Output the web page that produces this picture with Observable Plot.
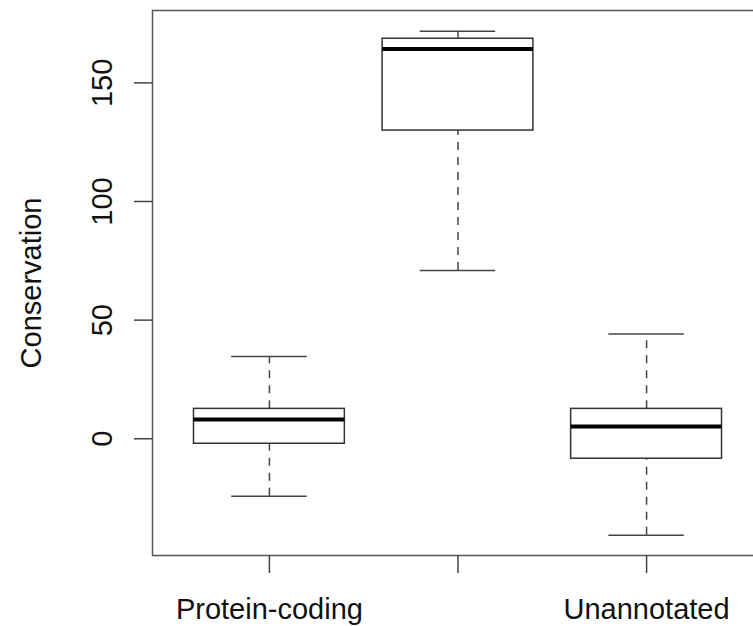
<!DOCTYPE html>
<html>
<head>
<meta charset="utf-8">
<script src="https://cdn.jsdelivr.net/npm/d3@7"></script>
<script src="https://cdn.jsdelivr.net/npm/@observablehq/plot@0.6"></script>
<style>
  html, body { margin: 0; padding: 0; background: white; overflow: hidden; }
  svg { overflow: hidden; }
</style>
</head>
<body>
<div id="chart"></div>
<script>
// Categories (the middle label is not printed in the reference)
const categories = ["Protein-coding", "", "Unannotated"];
const positions = [1, 2, 3];
// Box statistics
const lowerWhisker = [-24.2, 70.9, -40.7];
const q1 = [-2.1, 129.9, -8.4];
const median = [8.1, 164.3, 5.2];
const q3 = [12.6, 168.6, 12.6];
const upperWhisker = [34.7, 171.8, 44.2];
// Axis ticks
const yTicks = [0, 50, 100, 150];
const yTickLabels = ["0", "50", "100", "150"];
const yLabel = "Conservation";

const boxes = categories.map((c, i) => ({
  name: c, pos: positions[i], lo: lowerWhisker[i], q1: q1[i],
  med: median[i], q3: q3[i], hi: upperWhisker[i]
}));

const halfBox = 0.4, halfStaple = 0.2;
const lineColor = "#333";

const chart = Plot.plot({
  width: 753,
  height: 626,
  marginLeft: 152,
  marginRight: -10,
  marginTop: 10,
  marginBottom: 71,
  style: { fontFamily: "'Liberation Sans', Arial, Helvetica, sans-serif", fontSize: "29px", background: "white", color: "#111" },
  x: { type: "linear", domain: [0.38, 3.62] },
  y: { domain: [-49.2, 180.5] },
  marks: [
    // whiskers (dashed)
    Plot.ruleX(boxes, { x: "pos", y1: "q3", y2: "hi", stroke: "#444", strokeWidth: 1.5, strokeDasharray: "8,7" }),
    Plot.ruleX(boxes, { x: "pos", y1: "lo", y2: "q1", stroke: "#444", strokeWidth: 1.5, strokeDasharray: "8,7" }),
    // staples
    Plot.ruleY(boxes, { y: "hi", x1: d => d.pos - halfStaple, x2: d => d.pos + halfStaple, stroke: "#444", strokeWidth: 1.5 }),
    Plot.ruleY(boxes, { y: "lo", x1: d => d.pos - halfStaple, x2: d => d.pos + halfStaple, stroke: "#444", strokeWidth: 1.5 }),
    // boxes
    Plot.rect(boxes, { x1: d => d.pos - halfBox, x2: d => d.pos + halfBox, y1: "q1", y2: "q3", fill: "white", stroke: lineColor, strokeWidth: 1.5 }),
    // medians
    Plot.ruleY(boxes, { y: "med", x1: d => d.pos - halfBox, x2: d => d.pos + halfBox, stroke: "black", strokeWidth: 4 }),
    // frame
    Plot.frame({ stroke: "#555", strokeWidth: 1.5 }),
    // x axis
    Plot.axisX({ ticks: positions, tickSize: 18, tickPadding: 25, tickFormat: d => categories[d - 1], label: null, stroke: "#444", strokeWidth: 1.5, fill: "#111" }),
    // y axis ticks
    Plot.axisY({ ticks: yTicks, tickSize: 18, tickFormat: () => "", label: null, stroke: "#444", strokeWidth: 1.5 }),
    // y tick labels (rotated as in R)
    Plot.text(yTicks, { y: d => d, text: (d, i) => yTickLabels[i], frameAnchor: "left", dx: -40.5, rotate: -90, lineAnchor: "bottom", textAnchor: "middle", fill: "#111" }),
    // y axis title
    Plot.text([yLabel], { text: d => d, frameAnchor: "left", dx: -112, rotate: -90, lineAnchor: "bottom", textAnchor: "middle", fill: "#111" })
  ]
});
document.getElementById("chart").appendChild(chart);
</script>
</body>
</html>
